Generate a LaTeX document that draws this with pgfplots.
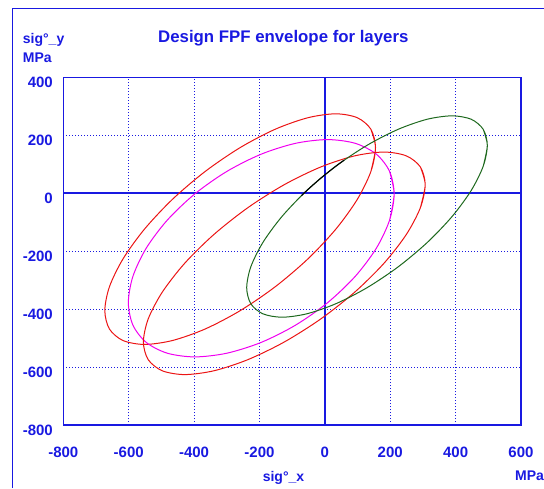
\documentclass[border=0pt]{standalone}
\usepackage{pgfplots}
\pgfplotsset{compat=1.18}
\usepackage{fontspec}
\setmainfont{Liberation Sans}
\definecolor{cblue}{RGB}{25,25,225}
\definecolor{cred}{RGB}{235,20,20}
\definecolor{cmag}{RGB}{240,0,240}
\definecolor{cgreen}{RGB}{30,105,30}
\begin{document}
\begin{tikzpicture}[x=1pt,y=1pt]
\useasboundingbox (0pt,0pt) rectangle (544pt,488pt);
\draw[cblue, line width=1.5pt] (12.7pt,0pt) -- (12.7pt,479.5pt) -- (544pt,479.5pt);
\node[anchor=base, inner sep=0pt, text=cblue, font=\bfseries\fontsize{16.8}{19}\selectfont] at (283.3pt,445pt) {Design FPF envelope for layers};
\node[anchor=base west, inner sep=0pt, text=cblue, font=\bfseries\fontsize{14}{16}\selectfont] at (22.7pt,444pt) {sig°\_y};
\node[anchor=base west, inner sep=0pt, text=cblue, font=\bfseries\fontsize{14}{16}\selectfont] at (22.7pt,425.5pt) {MPa};
\node[anchor=base, inner sep=0pt, text=cblue, font=\bfseries\fontsize{14}{16}\selectfont] at (283.5pt,7pt) {sig°\_x};
\node[anchor=base west, inner sep=0pt, text=cblue, font=\bfseries\fontsize{14}{16}\selectfont] at (515pt,7.5pt) {MPa};
\begin{axis}[
  at={(63.3pt,63pt)}, anchor=south west,
  scale only axis, width=457.7pt, height=347.7pt,
  xmin=-800, xmax=600, ymin=-800, ymax=400,
  xtick={-800,-600,-400,-200,0,200,400,600},
  ytick={-800,-600,-400,-200,0,200,400},
  major tick length=0pt,
  /pgf/number format/assume math mode=true,
  ticklabel style={text=cblue, font=\bfseries\fontsize{15}{17}\selectfont},
  xticklabel style={anchor=north, inner sep=0pt, yshift=-21.7pt},
  yticklabel style={anchor=north east, inner sep=0pt, xshift=-10.3pt},
  axis line style={draw=cblue, line width=1.5pt},
  grid=major,
  major grid style={cblue, line width=1pt, dash pattern=on 1pt off 2pt},
  extra x ticks={0}, extra y ticks={0},
  extra x tick labels={}, extra y tick labels={},
  extra tick style={major grid style={solid, cblue, line width=1.6pt}},
]
% red envelope 1
\addplot[cred, line width=1pt, smooth, mark=none] coordinates {
(140.9,75) (155,157.4) (140.9,220.7) (99.5,260.4) (33.7,274) (-52,260.4)
(-151.9,220.7) (-259,157.4) (-366.1,75) (-466,-21) (-551.7,-124) (-617.5,-227)
(-658.9,-323) (-673,-405.4) (-658.9,-468.7) (-617.5,-508.4) (-551.7,-522)
(-466,-508.4) (-366.1,-468.7) (-259,-405.4) (-151.9,-323) (-52,-227)
(33.7,-124) (99.5,-21) (140.9,75) (155,157.4) (140.9,220.7)};
% magenta envelope
\addplot[cmag, line width=1pt, smooth, mark=none] coordinates {
(198.1,-92.9) (212,-2.5) (198.1,75.2) (157.5,134.8) (92.9,172.2) (8.8,185)
(-89.3,172.2) (-194.5,134.8) (-299.7,75.2) (-397.8,-2.5) (-481.9,-92.9)
(-546.5,-190) (-587.1,-287.1) (-601,-377.5) (-587.1,-455.2) (-546.5,-514.8)
(-481.9,-552.2) (-397.8,-565) (-299.7,-552.2) (-194.5,-514.8) (-89.3,-455.2)
(8.8,-377.5) (92.9,-287.1) (157.5,-190) (198.1,-92.9) (212,-2.5) (198.1,75.2)};
% red envelope 2
\addplot[cred, line width=1pt, smooth, mark=none] coordinates {
(292.3,-50) (307,29.5) (292.3,90.5) (249.2,128.9) (180.8,142) (91.5,128.9)
(-12.5,90.5) (-124,29.5) (-235.5,-50) (-339.5,-142.6) (-428.8,-242)
(-497.2,-341.4) (-540.3,-434) (-555,-513.5) (-540.3,-574.5) (-497.2,-612.9)
(-428.8,-626) (-339.5,-612.9) (-235.5,-574.5) (-124,-513.5) (-12.5,-434)
(91.5,-341.4) (180.8,-242) (249.2,-142.6) (292.3,-50) (307,29.5) (292.3,90.5)};
% green envelope
\addplot[cgreen, line width=1pt, smooth, mark=none] coordinates {
(484.5,93.3) (497,165.2) (484.5,220.4) (447.7,255.2) (389.2,267) (313,255.2)
(224.2,220.4) (129,165.2) (33.8,93.3) (-55,9.4) (-131.2,-80.5) (-189.7,-170.4)
(-226.5,-254.3) (-239,-326.2) (-226.5,-381.4) (-189.7,-416.2) (-131.2,-428)
(-55,-416.2) (33.8,-381.4) (129,-326.2) (224.2,-254.3) (313,-170.4)
(389.2,-80.5) (447.7,9.4) (484.5,93.3) (497,165.2) (484.5,220.4)};
% black segment
\addplot[black, line width=1.1pt, smooth, mark=none] coordinates {
(58.8,113.8) (33.8,93.3) (-11.8,52.5) (-55,9.4) (-71.4,-8.3)};
\end{axis}
\end{tikzpicture}
\end{document}
